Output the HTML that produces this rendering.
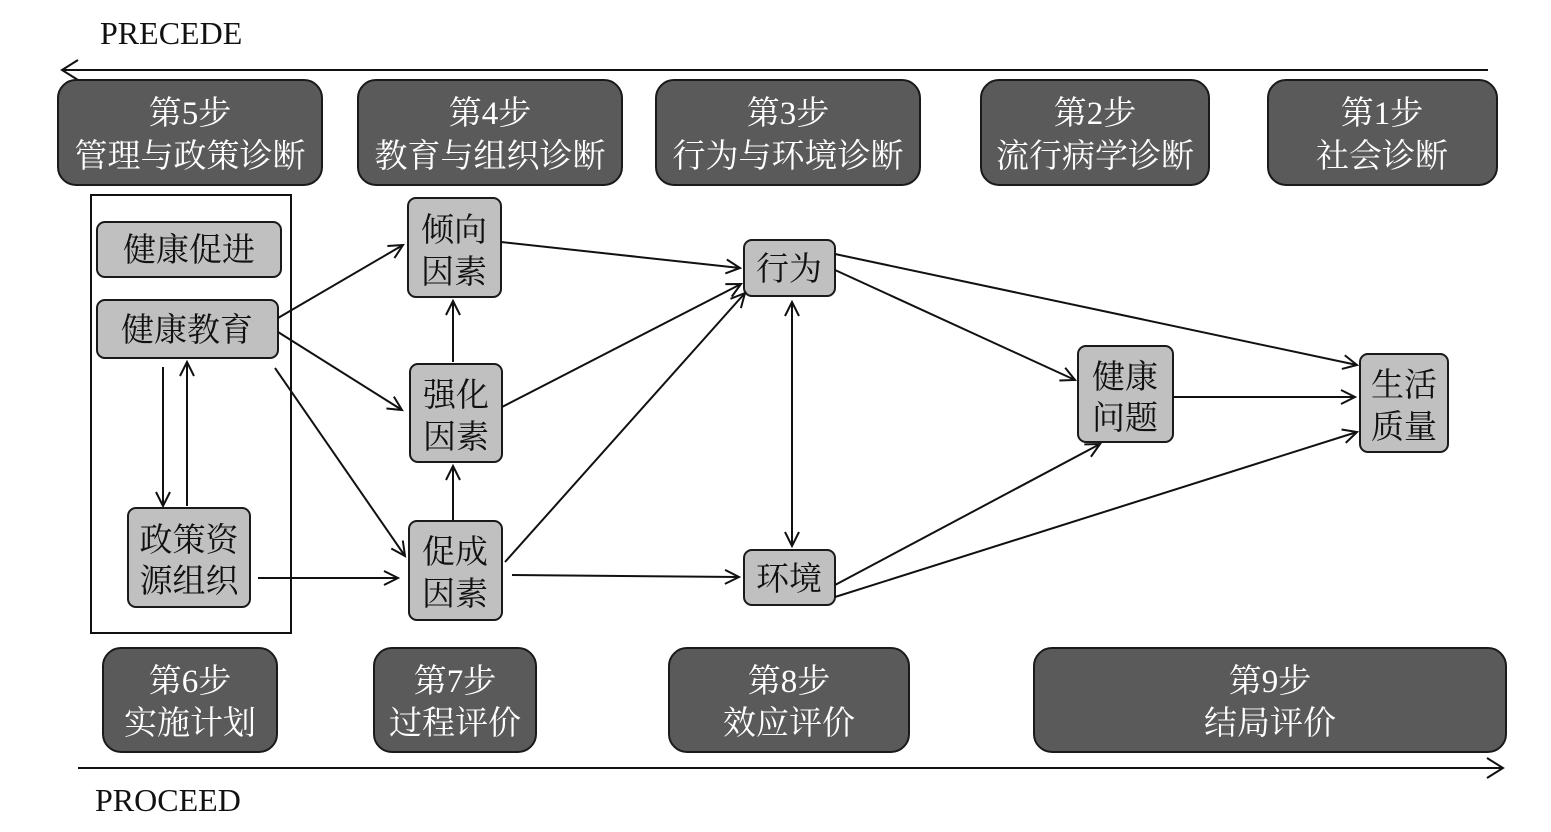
<!DOCTYPE html>
<html><head><meta charset="utf-8"><style>
html,body{margin:0;padding:0;background:#fff;}
svg text{font-family:"Liberation Serif","Noto Serif CJK SC","Noto Sans CJK SC",serif;}
.d{fill:#5a5a5a;stroke:#1a1a1a;stroke-width:2}
.l{fill:#c0c0c0;stroke:#1a1a1a;stroke-width:2}
.dt{fill:#fff;font-size:33px;text-anchor:middle}
.lt{fill:#111;font-size:33px;text-anchor:middle}
.a{stroke:#111;stroke-width:2;fill:none;marker-end:url(#ah)}
</style></head><body>
<svg width="1551" height="827" viewBox="0 0 1551 827" xmlns="http://www.w3.org/2000/svg">
<defs>
<marker id="ah" markerWidth="20" markerHeight="20" refX="16" refY="8" orient="auto" markerUnits="userSpaceOnUse">
<path d="M2,1 L16,8 L2,15" fill="none" stroke="#111" stroke-width="2"/>
</marker>
<marker id="as" markerWidth="20" markerHeight="20" refX="2" refY="8" orient="auto" markerUnits="userSpaceOnUse">
<path d="M16,1 L2,8 L16,15" fill="none" stroke="#111" stroke-width="2"/>
</marker>
</defs>
<text x="100" y="44" font-size="32" fill="#111">PRECEDE</text>
<line x1="62" y1="70" x2="1488" y2="70" stroke="#111" stroke-width="2"/>
<path d="M78,60 L62,70 L78,80" fill="none" stroke="#111" stroke-width="2"/>
<text x="95" y="811" font-size="32" fill="#111">PROCEED</text>
<line x1="78" y1="768" x2="1503" y2="768" stroke="#111" stroke-width="2"/>
<path d="M1487,758 L1503,768 L1487,778" fill="none" stroke="#111" stroke-width="2"/>

<rect class="d" x="58" y="80" width="264" height="105" rx="18"/>
<text class="dt" x="190" y="124">第5步</text><text class="dt" x="190" y="167">管理与政策诊断</text>
<rect class="d" x="358" y="80" width="264" height="105" rx="18"/>
<text class="dt" x="490" y="124">第4步</text><text class="dt" x="490" y="167">教育与组织诊断</text>
<rect class="d" x="656" y="80" width="264" height="105" rx="18"/>
<text class="dt" x="788" y="124">第3步</text><text class="dt" x="788" y="167">行为与环境诊断</text>
<rect class="d" x="981" y="80" width="228" height="105" rx="18"/>
<text class="dt" x="1095" y="124">第2步</text><text class="dt" x="1095" y="167">流行病学诊断</text>
<rect class="d" x="1268" y="80" width="229" height="105" rx="18"/>
<text class="dt" x="1382" y="124">第1步</text><text class="dt" x="1382" y="167">社会诊断</text>

<rect class="d" x="103" y="648" width="174" height="104" rx="18"/>
<text class="dt" x="190" y="692">第6步</text><text class="dt" x="190" y="734">实施计划</text>
<rect class="d" x="374" y="648" width="162" height="104" rx="18"/>
<text class="dt" x="455" y="692">第7步</text><text class="dt" x="455" y="734">过程评价</text>
<rect class="d" x="669" y="648" width="240" height="104" rx="18"/>
<text class="dt" x="789" y="692">第8步</text><text class="dt" x="789" y="734">效应评价</text>
<rect class="d" x="1034" y="648" width="472" height="104" rx="18"/>
<text class="dt" x="1270" y="692">第9步</text><text class="dt" x="1270" y="734">结局评价</text>

<rect x="91" y="195" width="200" height="438" fill="none" stroke="#111" stroke-width="2"/>
<rect class="l" x="97" y="222" width="184" height="55" rx="8"/>
<text class="lt" x="189" y="261">健康促进</text>
<rect class="l" x="97" y="300" width="181" height="58" rx="8"/>
<text class="lt" x="187" y="341">健康教育</text>
<rect class="l" x="128" y="508" width="122" height="99" rx="8"/>
<text class="lt" x="189" y="551">政策资</text><text class="lt" x="189" y="592">源组织</text>

<rect class="l" x="408" y="198" width="93" height="99" rx="8"/>
<text class="lt" x="454" y="241">倾向</text><text class="lt" x="454" y="283">因素</text>
<rect class="l" x="410" y="364" width="92" height="98" rx="8"/>
<text class="lt" x="456" y="406">强化</text><text class="lt" x="456" y="448">因素</text>
<rect class="l" x="409" y="521" width="93" height="99" rx="8"/>
<text class="lt" x="455" y="563">促成</text><text class="lt" x="455" y="605">因素</text>
<rect class="l" x="744" y="240" width="91" height="56" rx="8"/>
<text class="lt" x="789" y="280">行为</text>
<rect class="l" x="744" y="550" width="91" height="55" rx="8"/>
<text class="lt" x="789" y="590">环境</text>
<rect class="l" x="1078" y="346" width="95" height="96" rx="8"/>
<text class="lt" x="1125" y="388">健康</text><text class="lt" x="1125" y="429">问题</text>
<rect class="l" x="1360" y="354" width="88" height="98" rx="8"/>
<text class="lt" x="1404" y="396">生活</text><text class="lt" x="1404" y="438">质量</text>

<line class="a" x1="278" y1="318" x2="403" y2="245"/>
<line class="a" x1="278" y1="332" x2="402" y2="410"/>
<line class="a" x1="275" y1="368" x2="405" y2="556"/>
<line class="a" x1="163" y1="367" x2="163" y2="506"/>
<line class="a" x1="187" y1="506" x2="187" y2="362"/>
<line class="a" x1="258" y1="578" x2="398" y2="578"/>
<line class="a" x1="453" y1="520" x2="453" y2="466"/>
<line class="a" x1="453" y1="362" x2="453" y2="301"/>
<line class="a" x1="501" y1="242" x2="740" y2="268"/>
<line class="a" x1="502" y1="407" x2="741" y2="284"/>
<line class="a" x1="505" y1="562" x2="745" y2="293"/>
<line class="a" x1="512" y1="575" x2="739" y2="577"/>
<line class="a" x1="792" y1="302" x2="792" y2="546" marker-start="url(#as)"/>
<line class="a" x1="835" y1="254" x2="1357" y2="365"/>
<line class="a" x1="835" y1="270" x2="1075" y2="380"/>
<line class="a" x1="835" y1="585" x2="1100" y2="444"/>
<line class="a" x1="835" y1="597" x2="1357" y2="432"/>
<line class="a" x1="1173" y1="397" x2="1355" y2="397"/>
</svg>
</body></html>
